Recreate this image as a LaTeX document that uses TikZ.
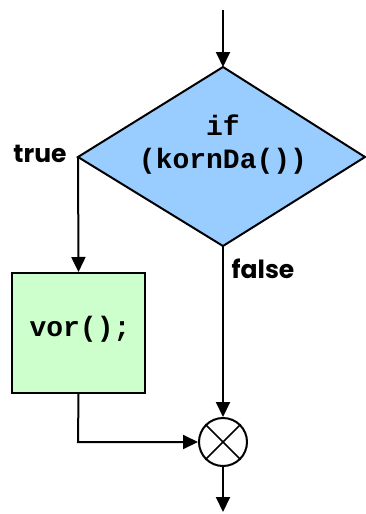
\documentclass[tikz,border=0pt]{standalone}
\usepackage{fontspec}
\setmainfont{Poppins}
\setmonofont{Liberation Mono}
\usetikzlibrary{shapes.geometric,arrows.meta}
\definecolor{condblue}{HTML}{99CCFF}
\definecolor{stmtgreen}{HTML}{CCFFCC}
\begin{document}
\begin{tikzpicture}[x=1pt,y=-1pt,
  flow/.style={line width=2pt,-{Triangle[length=15pt,width=14pt]}},
  lbl/.style={font=\fontsize{25}{28}\selectfont\bfseries},
  code/.style={font=\fontsize{28}{33}\selectfont\ttfamily\bfseries}]
\useasboundingbox (0,0) rectangle (365,514);
% decision diamond
\fill[condblue] (223,67) -- (365,157) -- (223,246) -- (78,157) -- cycle;
\draw[line width=2pt,line join=miter] (223,67) -- (365,157) -- (223,246) -- (78,157) -- cycle;
\coordinate (dtop) at (223,67);
\coordinate (dleft) at (78,157);
\coordinate (dbot) at (223,246);
\node[code,align=center] (cond) at (223,145) {if\\(kornDa())};
% statement box
\node[draw,line width=2pt,fill=stmtgreen,minimum width=133pt,minimum height=120pt,inner sep=0pt] (stmt) at (78.5,333) {};
\node[code] (stmttext) at (80,329) {vor();};
% join circle
\node[draw,circle,line width=2pt,fill=white,minimum size=48pt,inner sep=0pt] (join) at (223,442) {};
\draw[line width=1.6pt] (join.45) -- (join.225) (join.135) -- (join.315);
% labels
\node[lbl] (tlbl) at (40,154) {true};
\node[lbl] (flbl) at (263,269) {false};
% connectors
\coordinate (start) at (223,10);
\coordinate (finish) at (223,512);
\coordinate (bend) at (78,442);
\draw[flow] (start) -- (dtop);
\draw[flow] (dleft) -- (stmt.north);
\draw[flow] (dbot) -- (join.north);
\draw[flow] (stmt.south) -- (bend) -- (join.west);
\draw[flow] (join.south) -- (finish);
\end{tikzpicture}
\end{document}
